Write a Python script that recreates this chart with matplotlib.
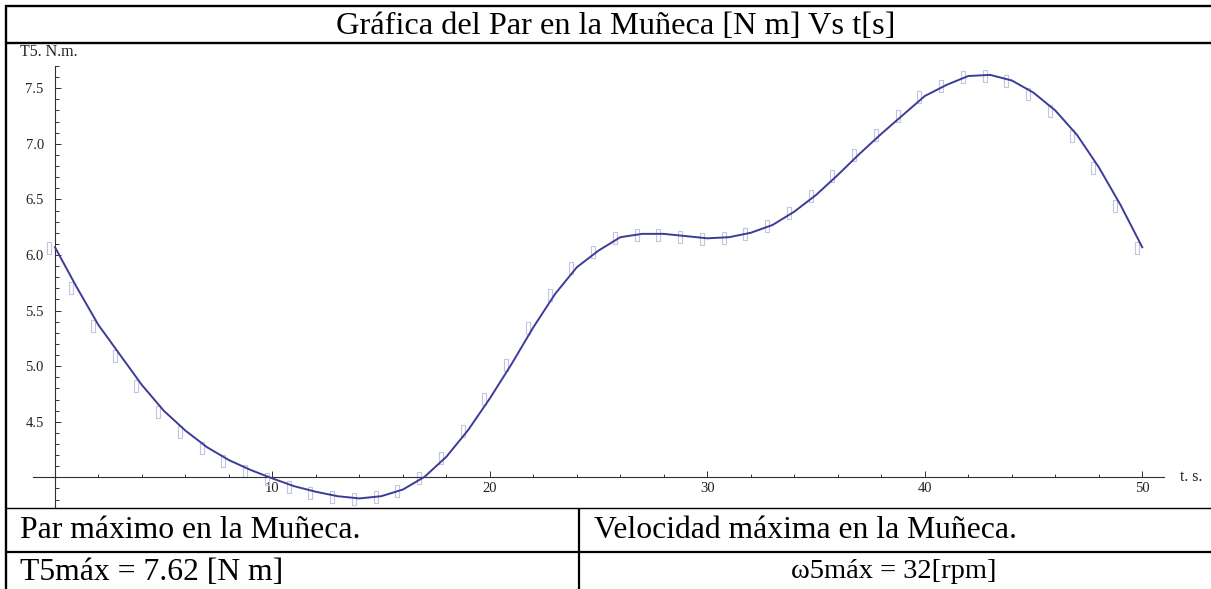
import matplotlib
matplotlib.use("Agg")
import matplotlib.pyplot as plt
import matplotlib.transforms as mtransforms
from matplotlib.lines import Line2D
from matplotlib.ticker import FixedLocator, FuncFormatter

# Wrist torque T5 [N m] sampled every second
t_values = list(range(0, 51))
torque_values = [6.07, 5.71, 5.37, 5.10, 4.83, 4.60, 4.42, 4.27, 4.155, 4.066,
                 3.99, 3.92, 3.87, 3.83, 3.81, 3.83, 3.89, 4.005, 4.185, 4.425,
                 4.71, 5.02, 5.35, 5.65, 5.89, 6.04, 6.16, 6.19, 6.19, 6.17,
                 6.15, 6.16, 6.20, 6.27, 6.39, 6.54, 6.72, 6.91, 7.09, 7.26,
                 7.43, 7.53, 7.61, 7.62, 7.57, 7.46, 7.30, 7.08, 6.79, 6.45,
                 6.07]

x_major = [10, 20, 30, 40, 50]
x_minor = [2, 4, 6, 8, 12, 14, 16, 18, 22, 24, 26, 28, 32, 34, 36, 38,
           42, 44, 46, 48]
y_major = [4.5, 5.0, 5.5, 6.0, 6.5, 7.0, 7.5]
y_minor = [round(3.8 + 0.1 * k, 1) for k in range(0, 40)]

title_text = "Gráfica del Par en la Muñeca [N m] Vs t[s]"
row1_left = "Par máximo en la Muñeca."
row1_right = "Velocidad máxima en la Muñeca."
row2_left = "T5máx = 7.62 [N m]"
row2_right = "ω5máx = 32[rpm]"
y_label = "T5. N.m."
x_label = "t. s."

W, H = 1211, 589
DPI = 100
fig = plt.figure(figsize=(W / DPI, H / DPI), dpi=DPI)
fig.patch.set_facecolor("white")

serif = ["Liberation Serif", "DejaVu Serif"]


def fx(px):
    return px / W


def fy(py):
    return 1 - py / H


# plot area
ax_left, ax_right, ax_top, ax_bottom = 33, 1164, 66, 508
ax = fig.add_axes([fx(ax_left), fy(ax_bottom), fx(ax_right - ax_left),
                   (ax_bottom - ax_top) / H])
ax.set_xlim(-1.01, 51.0)
ax.set_ylim(3.724, 7.70)
ax.set_facecolor("none")

line_color = "#3c3c98"
marker_color = "#c4c4e2"
axis_color = "#303030"

# hollow box glyphs at the samples, nudged slightly to the left
box = [(-0.38, -1.0), (0.38, -1.0), (0.38, 1.0), (-0.38, 1.0), (-0.38, -1.0)]
shift = mtransforms.ScaledTranslation(-5.5 / DPI, -1.0 / DPI, fig.dpi_scale_trans)
ax.plot(t_values, torque_values, linestyle="none", marker=box, markersize=8.5,
        markerfacecolor="none", markeredgecolor=marker_color,
        markeredgewidth=0.8, transform=ax.transData + shift, zorder=2)

ax.plot(t_values, torque_values, color=line_color, lw=1.4, zorder=3,
        solid_joinstyle="miter")

for s in ["top", "right"]:
    ax.spines[s].set_visible(False)
ax.spines["left"].set_position(("data", 0))
ax.spines["bottom"].set_position(("data", 4.0))
for s in ["left", "bottom"]:
    ax.spines[s].set_color(axis_color)
    ax.spines[s].set_linewidth(0.8)

ax.xaxis.set_major_locator(FixedLocator(x_major))
ax.xaxis.set_minor_locator(FixedLocator(x_minor))
ax.yaxis.set_major_locator(FixedLocator(y_major))
ax.yaxis.set_minor_locator(FixedLocator(y_minor))
ax.xaxis.set_major_formatter(FuncFormatter(lambda v, p: f"{v:.0f}"))
ax.yaxis.set_major_formatter(FuncFormatter(lambda v, p: f"{v:.1f}"))

ax.tick_params(axis="x", which="major", direction="in", length=4.0, width=0.7,
               color=axis_color, pad=3.5, labelsize=10.5, labelcolor="#222222")
ax.tick_params(axis="x", which="minor", direction="in", length=2.3, width=0.7,
               color=axis_color)
ax.tick_params(axis="y", which="major", direction="in", length=4.3, width=0.7,
               color=axis_color, pad=8, labelsize=10.5, labelcolor="#222222")
ax.tick_params(axis="y", which="minor", direction="in", length=2.8, width=0.7,
               color=axis_color)
for lab in ax.get_xticklabels() + ax.get_yticklabels():
    lab.set_family(serif)

fig.text(fx(20), fy(51.5), y_label, family=serif, fontsize=11.5, color="#222222",
         ha="left", va="center")
fig.text(fx(1180), fy(477), x_label, family=serif, fontsize=11.5, color="#222222",
         ha="left", va="center")

# table frame
def hline(y, x0, x1, lw):
    fig.add_artist(Line2D([fx(x0), fx(x1)], [fy(y), fy(y)], color="black",
                          lw=lw, solid_capstyle="butt"))


def vline(x, y0, y1, lw):
    fig.add_artist(Line2D([fx(x), fx(x)], [fy(y0), fy(y1)], color="black",
                          lw=lw, solid_capstyle="butt"))


hline(6, 5, W, 1.7)
hline(43, 5, W, 1.7)
hline(508, 5, W, 1.0)
hline(552, 5, W, 1.6)
vline(6, 5, H, 1.7)
vline(579, 508, H, 1.6)

fig.text(fx(616), fy(26), title_text, family=serif, fontsize=23.3,
         ha="center", va="center")
fig.text(fx(20), fy(531), row1_left, family=serif, fontsize=22.8,
         ha="left", va="center")
fig.text(fx(594), fy(531), row1_right, family=serif, fontsize=22.8,
         ha="left", va="center")
fig.text(fx(20), fy(572), row2_left, family=serif, fontsize=22.8,
         ha="left", va="center")
fig.text(fx(894), fy(572), row2_right, family=serif, fontsize=20.5,
         ha="center", va="center")

fig.savefig("out.png", dpi=DPI)
